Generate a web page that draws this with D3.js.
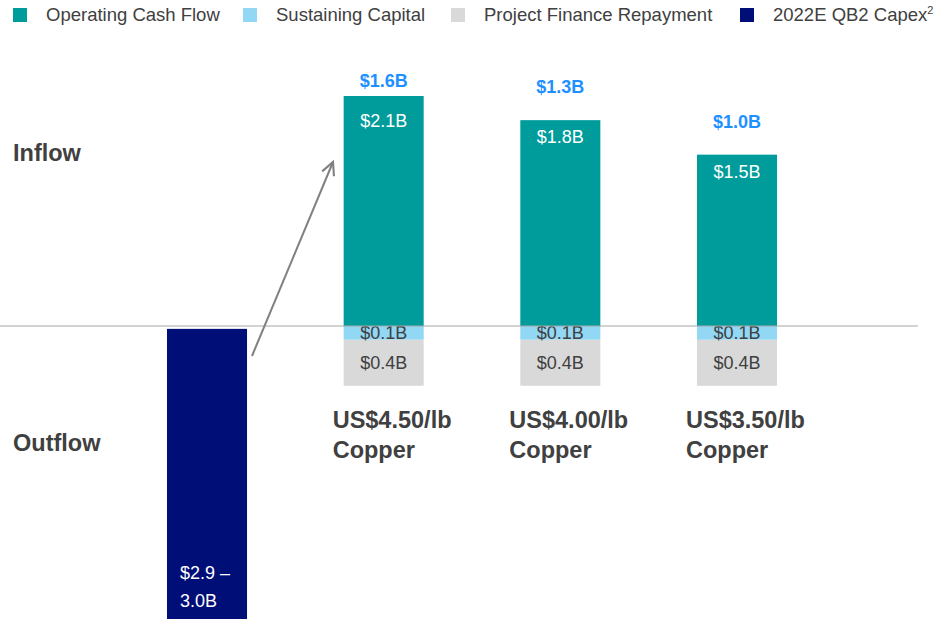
<!DOCTYPE html>
<html>
<head>
<meta charset="utf-8">
<script src="https://cdn.jsdelivr.net/npm/d3@7"></script>
<style>
  body { margin: 0; background: #fff; font-family: "Liberation Sans", Arial, sans-serif; }
</style>
</head>
<body>
<script>
// data (billions)
var cases = ["capex", "4.50", "4.00", "3.50"];
var priceLabels = ["US$4.50/lb", "US$4.00/lb", "US$3.50/lb"];
var operating = [2.0, 1.79, 1.49];
var operatingLabels = ["$2.1B", "$1.8B", "$1.5B"];
var sustaining = [0.12, 0.12, 0.12];
var sustainingLabels = ["$0.1B", "$0.1B", "$0.1B"];
var financeRepay = [0.4, 0.4, 0.4];
var financeLabels = ["$0.4B", "$0.4B", "$0.4B"];
var netLabels = ["$1.6B", "$1.3B", "$1.0B"];
var capex = 2.95;
var capexLabel = ["$2.9 \u2013", "3.0B"];
var legendItems = ["Operating Cash Flow", "Sustaining Capital", "Project Finance Repayment", "2022E QB2 Capex"];

var colors = {op: "#009B9B", sus: "#92D7F4", fin: "#D9D9D9", capex: "#000E78"};
var legendColors = [colors.op, colors.sus, colors.fin, colors.capex];

var width = 940, height = 619;
var svg = d3.select("body").append("svg").attr("width", width).attr("height", height);

var x = d3.scaleBand().domain(cases).range([167, 777]).paddingInner(0.547).paddingOuter(0);
var y = d3.scaleLinear().domain([0, 2]).range([326, 96]);
var bw = x.bandwidth();

var rows = operating.map(function(v, i){
  return {key: cases[i+1], op: v, sus: sustaining[i], fin: financeRepay[i], i: i};
});

// legend
var legendX = [13, 243, 451, 740];
var lg = svg.selectAll("g.legend").data(legendItems).enter().append("g").attr("class", "legend")
  .attr("transform", function(d, i){ return "translate(" + legendX[i] + ",8)"; });
lg.append("rect").attr("width", 14).attr("height", 14).attr("fill", function(d, i){ return legendColors[i]; });
var lt = lg.append("text").attr("x", 33).attr("y", 13).style("font-size", "18.5px").attr("fill", "#404040").text(function(d){ return d; });
lt.filter(function(d, i){ return i === 3; }).append("tspan").attr("dy", -7).style("font-size", "11px").text("2");

// capex bar (outflow)
svg.append("rect")
  .attr("x", x("capex")).attr("y", y(-0.025)).attr("width", bw)
  .attr("height", y(-capex) - y(-0.025)).attr("fill", colors.capex);
svg.append("text").attr("x", x("capex") + 13).attr("y", 579).attr("fill", "#fff").style("font-size", "18px")
  .selectAll("tspan").data(capexLabel).enter().append("tspan")
  .attr("x", x("capex") + 13).attr("dy", function(d, i){ return i ? 28 : 0; }).text(function(d){ return d; });

// stacked bars
var g = svg.selectAll("g.case").data(rows).enter().append("g").attr("class", "case");
g.append("rect").attr("x", function(d){ return x(d.key); }).attr("y", function(d){ return y(d.op); })
  .attr("width", bw).attr("height", function(d){ return y(0) - y(d.op); }).attr("fill", colors.op);
g.append("rect").attr("x", function(d){ return x(d.key); }).attr("y", y(0))
  .attr("width", bw).attr("height", function(d){ return y(-d.sus) - y(0); }).attr("fill", colors.sus);
g.append("rect").attr("x", function(d){ return x(d.key); }).attr("y", function(d){ return y(-d.sus); })
  .attr("width", bw).attr("height", function(d){ return y(-d.sus - d.fin) - y(-d.sus); }).attr("fill", colors.fin);

var cx = function(d){ return x(d.key) + bw / 2; };
g.append("text").attr("x", cx).attr("y", function(d){ return y(d.op) + (d.i ? 23 : 31); }).attr("text-anchor", "middle")
  .attr("fill", "#fff").style("font-size", "18px").text(function(d){ return operatingLabels[d.i]; });
g.append("text").attr("x", cx).attr("y", function(d){ return y(-d.sus) - 1; }).attr("text-anchor", "middle")
  .attr("fill", "#404040").style("font-size", "18px").text(function(d){ return sustainingLabels[d.i]; });
g.append("text").attr("x", cx).attr("y", function(d){ return y(-d.sus - d.fin / 2) + 6; }).attr("text-anchor", "middle")
  .attr("fill", "#404040").style("font-size", "18px").text(function(d){ return financeLabels[d.i]; });
g.append("text").attr("x", cx).attr("y", function(d){ return y(d.op) - (d.i ? 27 : 9); }).attr("text-anchor", "middle")
  .attr("fill", "#1E90FF").style("font-size", "18px").style("font-weight", "bold").text(function(d){ return netLabels[d.i]; });

var cat = g.append("text").attr("fill", "#404040").style("font-size", "23.5px").style("font-weight", "bold")
  .attr("y", 428);
cat.append("tspan").attr("x", function(d){ return cx(d) - 51; }).text(function(d){ return priceLabels[d.i]; });
cat.append("tspan").attr("x", function(d){ return cx(d) - 51; }).attr("dy", 30).text("Copper");

// zero line
svg.append("line").attr("x1", 0).attr("x2", 918).attr("y1", y(0)).attr("y2", y(0))
  .attr("stroke", "#A6A6A6").attr("stroke-width", 1);

// arrow
svg.append("defs").append("marker").attr("id", "ah").attr("viewBox", "0 0 10 10").attr("refX", 9).attr("refY", 5)
  .attr("markerWidth", 8).attr("markerHeight", 8).attr("orient", "auto")
  .append("path").attr("d", "M1,1 L9,5 L1,9").attr("fill", "none").attr("stroke", "#808080").attr("stroke-width", 1.3);
svg.append("line").attr("x1", 252).attr("y1", 356).attr("x2", 333).attr("y2", 162)
  .attr("stroke", "#808080").attr("stroke-width", 2).attr("marker-end", "url(#ah)");

svg.append("text").attr("x", 13).attr("y", 161).attr("fill", "#404040").style("font-size", "23.5px").style("font-weight", "bold").text("Inflow");
svg.append("text").attr("x", 13).attr("y", 451).attr("fill", "#404040").style("font-size", "23.5px").style("font-weight", "bold").text("Outflow");
</script>
</body>
</html>
